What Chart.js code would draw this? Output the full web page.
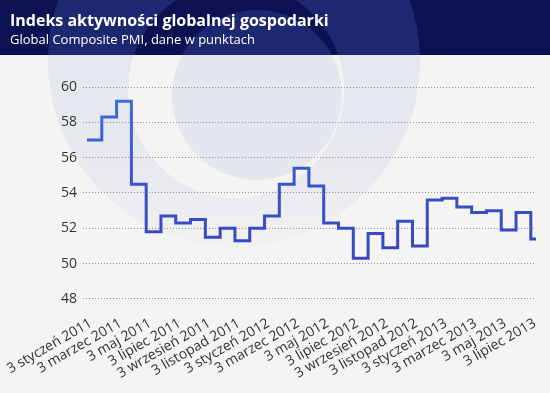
<!DOCTYPE html>
<html lang="pl">
<head>
<meta charset="utf-8">
<title>Indeks aktywności globalnej gospodarki</title>
<script src="https://cdn.jsdelivr.net/npm/chart.js@4.4.1/dist/chart.umd.min.js"></script>
<style>
  html, body { margin: 0; padding: 0; background: #f4f3f1; }
  #wrap { width: 550px; height: 393px; }
</style>
</head>
<body>
<div id="wrap"><canvas id="pmi-chart" width="550" height="393"></canvas></div>
<script>
// Global Composite PMI, odczyty miesięczne (styczeń 2011 - lipiec 2013)
const miesiace = [
  '2011-01', '2011-02', '2011-03', '2011-04', '2011-05', '2011-06',
  '2011-07', '2011-08', '2011-09', '2011-10', '2011-11', '2011-12',
  '2012-01', '2012-02', '2012-03', '2012-04', '2012-05', '2012-06',
  '2012-07', '2012-08', '2012-09', '2012-10', '2012-11', '2012-12',
  '2013-01', '2013-02', '2013-03', '2013-04', '2013-05', '2013-06',
  '2013-07'
];
const pmi = [
  57.0, 58.3, 59.2, 54.5, 51.8, 52.7, 52.3, 52.5, 51.5, 52.0, 51.3, 52.0,
  52.7, 54.5, 55.4, 54.4, 52.3, 52.0, 50.3, 51.7, 50.9, 52.4, 51.0, 53.6,
  53.7, 53.2, 52.9, 53.0, 51.9, 52.9, 51.4
];

// Etykiety osi X - co drugi miesiąc
const etykietyOsi = [
  '3 styczeń 2011', '3 marzec 2011', '3 maj 2011', '3 lipiec 2011',
  '3 wrzesień 2011', '3 listopad 2011', '3 styczeń 2012', '3 marzec 2012',
  '3 maj 2012', '3 lipiec 2012', '3 wrzesień 2012', '3 listopad 2012',
  '3 styczeń 2013', '3 marzec 2013', '3 maj 2013', '3 lipiec 2013'
];
const miesiaceEtykiet = [
  '2011-01', '2011-03', '2011-05', '2011-07', '2011-09', '2011-11',
  '2012-01', '2012-03', '2012-05', '2012-07', '2012-09', '2012-11',
  '2013-01', '2013-03', '2013-05', '2013-07'
];

const tytul = 'Indeks aktywności globalnej gospodarki';
const podtytul = 'Global Composite PMI, dane w punktach';

// Punkty linii schodkowej: indeks miesiąca -> wartość,
// ostatni schodek przedłużony o jeden miesiąc (przycinany na krawędzi wykresu)
const punkty = pmi.map((v, i) => ({ x: i, y: v }));
punkty.push({ x: pmi.length, y: pmi[pmi.length - 1] });
const pozycjeEtykiet = miesiaceEtykiet.map(m => miesiace.indexOf(m));

const TLO = '#f5f4f2';
const GRANAT = '#0b1151';
const GRANAT_JASNY = '#1e2870';

// Tło, znak wodny i nagłówek
const tloPlugin = {
  id: 'tlo',
  beforeDraw(chart) {
    const ctx = chart.ctx;
    const w = chart.width, h = chart.height;
    const kolo = (x, y, r, kolor) => {
      ctx.beginPath();
      ctx.arc(x, y, r, 0, Math.PI * 2);
      ctx.fillStyle = kolor;
      ctx.fill();
    };
    ctx.save();
    ctx.fillStyle = TLO;
    ctx.fillRect(0, 0, w, h);

    const grad = ctx.createLinearGradient(0, 55, 0, 255);
    grad.addColorStop(0, 'rgba(229,231,239,1)');
    grad.addColorStop(0.6, 'rgba(229,231,239,0.8)');
    grad.addColorStop(1, 'rgba(229,231,239,0.15)');
    kolo(234, 61, 186, grad);
    kolo(236, 90, 108, TLO);
    kolo(257, 95, 85, 'rgba(229,231,239,1)');

    // nagłówek
    ctx.beginPath();
    ctx.rect(0, 0, w, 55);
    ctx.clip();
    ctx.fillStyle = GRANAT;
    ctx.fillRect(0, 0, w, 55);
    kolo(234, 61, 186, GRANAT_JASNY);
    kolo(236, 90, 108, GRANAT);
    kolo(257, 95, 85, GRANAT_JASNY);
    ctx.restore();

    ctx.save();
    ctx.fillStyle = '#ffffff';
    ctx.textAlign = 'left';
    ctx.textBaseline = 'alphabetic';
    ctx.font = 'bold 16px "Open Sans"';
    ctx.fillText(tytul, 10, 26);
    ctx.font = '13px "Open Sans"';
    ctx.fillText(podtytul, 10, 44);
    ctx.restore();
  }
};

function kolorLinii(context) {
  const { ctx, chartArea } = context.chart;
  if (!chartArea) return '#3450c8';
  const g = ctx.createLinearGradient(0, chartArea.top, 0, chartArea.bottom);
  g.addColorStop(0, '#3a70dc');
  g.addColorStop(0.5, '#3652c8');
  g.addColorStop(1, '#3a3dbb');
  return g;
}

const ctx = document.getElementById('pmi-chart').getContext('2d');
const wykres = new Chart(ctx, {
  type: 'line',
  data: {
    datasets: [{
      label: 'Global Composite PMI',
      data: punkty,
      stepped: 'before',
      borderColor: kolorLinii,
      borderWidth: 3,
      pointRadius: 0,
      fill: false
    }]
  },
  options: {
    responsive: false,
    animation: false,
    layout: { padding: { top: 87, right: 14, bottom: 3, left: 55 } },
    plugins: {
      legend: { display: false },
      tooltip: { enabled: false }
    },
    scales: {
      x: {
        type: 'linear',
        min: -0.27,
        max: 30.35,
        grid: { display: false },
        border: { display: false },
        afterBuildTicks: scale => {
          scale.ticks = pozycjeEtykiet.map(v => ({ value: v }));
        },
        // pochylone etykiety mogą wychodzić w lewy margines
        afterFit: scale => {
          scale.paddingLeft = 0;
          scale.paddingRight = 0;
        },
        ticks: {
          autoSkip: false,
          minRotation: 30,
          maxRotation: 30,
          padding: 8,
          labelOffset: 4,
          color: '#333333',
          font: { family: 'Open Sans', size: 14 },
          callback: (value, index) => etykietyOsi[index]
        }
      },
      y: {
        min: 48,
        max: 60,
        grid: {
          color: 'rgba(115,115,115,0.75)',
          lineWidth: 1,
          drawTicks: false
        },
        border: { display: false, dash: [1, 2] },
        ticks: {
          stepSize: 2,
          padding: 6,
          color: '#333333',
          font: { family: 'Open Sans', size: 14 }
        }
      }
    }
  },
  plugins: [tloPlugin]
});
</script>
</body>
</html>
